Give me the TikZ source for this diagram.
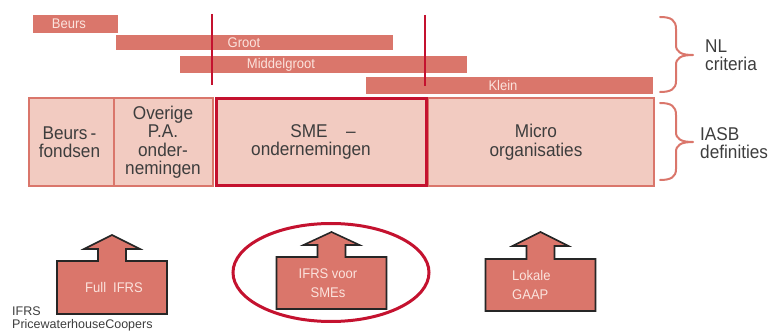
\documentclass[tikz,border=0pt]{standalone}
\usepackage{fontspec}
\setmainfont{Liberation Sans}
\newfontfamily\narrowsans[FakeStretch=0.93]{Liberation Sans}
\definecolor{salmon}{HTML}{DA766B}
\definecolor{blush}{HTML}{F2CBC1}
\definecolor{crimson}{HTML}{C4122F}
\definecolor{paletext}{HTML}{FBE3DD}
\definecolor{ink}{HTML}{3D3D3D}

% up-arrow "house" outline: #1 centre x, #2 tip y, #3 head base y, #4 body top y, #5 body bottom y
\newcommand\housearrow[5]{%
  \draw[arrowshape] (#1-55,#4) -- (#1-14,#4) -- (#1-14,#3) -- (#1-28,#3) -- (#1,#2)
    -- (#1+28,#3) -- (#1+14,#3) -- (#1+14,#4) -- (#1+55,#4) -- (#1+55,#5)
    -- (#1-55,#5) -- cycle;}

\tikzset{
  barfill/.style={fill=salmon},
  bartext/.style={text=paletext, font=\narrowsans\fontsize{14}{15}\selectfont, inner sep=0pt},
  pinkbox/.style={fill=blush, draw=salmon, line width=2pt},
  smebox/.style={draw=crimson, line width=3pt},
  boxtext/.style={text=ink, font=\narrowsans\fontsize{18.5}{18.5}\selectfont, align=center, inner sep=0pt},
  divider/.style={draw=crimson, line width=2pt},
  bracepath/.style={draw=salmon, line width=2pt, line cap=round, line join=round},
  sidetext/.style={text=ink, font=\narrowsans\fontsize{18.5}{18.5}\selectfont, align=left, anchor=west, inner sep=0pt},
  arrowshape/.style={fill=salmon, draw=black!85, line width=1.6pt, line join=miter},
  arrowtext/.style={text=paletext, font=\narrowsans\fontsize{14}{19}\selectfont, inner sep=0pt},
}

\begin{document}
\begin{tikzpicture}[x=1pt, y=-1pt]
\useasboundingbox (0,0) rectangle (769,334);

% size criteria bars
\path[barfill] (33,15) rectangle (118,33);
\node[bartext] (tbeurs) at (69,24) {Beurs};
\path[barfill] (116,35) rectangle (393,50);
\node[bartext] (tgroot) at (244,42.5) {Groot};
\path[barfill] (180,56) rectangle (467,73);
\node[bartext] (tmiddel) at (281,64.5) {Middelgroot};
\path[barfill] (366,77) rectangle (653,94);
\node[bartext] (tklein) at (503,85.5) {Klein};

% boundaries of the SME range
\draw[divider] (212,14) -- (212,85);
\draw[divider] (425,15) -- (425,86);

% IASB categories
\path[pinkbox] (29,98) rectangle (114,186);
\node[boxtext] (beursfondsen) at (69.5,142) {Beurs\,-\\fondsen};
\path[pinkbox] (114,98) rectangle (213,186);
\node[boxtext] (overige) at (163,142) {Overige\\P.A.\\onder-\\nemingen};
\path[pinkbox] (216,98) rectangle (426,186);
\path[pinkbox] (428,98) rectangle (654,186);
\draw[smebox] (216.5,98.3) rectangle (426,186);
\node[boxtext] (sme) at (311,142) {\hspace*{24pt}SME\quad–\\ondernemingen};
\node[boxtext] (micro) at (536,142) {Micro\\organisaties};

% braces with their labels
\draw[bracepath] (660,17) .. controls (671,17) and (676,20) .. (676,29) -- (676,45)
  .. controls (676,52) and (681,55) .. (693,55)
  .. controls (681,55) and (676,58) .. (676,65) -- (676,81)
  .. controls (676,89) and (671,92) .. (660,92);
\node[sidetext] (nl) at (705,55) {NL\\criteria};
\draw[bracepath] (660,103) .. controls (671,103) and (676,106) .. (676,115) -- (676,132)
  .. controls (676,139) and (681,142) .. (693,142)
  .. controls (681,142) and (676,145) .. (676,152) -- (676,169)
  .. controls (676,177) and (671,180) .. (660,180);
\node[sidetext] (iasb) at (700,143) {IASB\\definities};

% reporting frameworks
\housearrow{112}{235}{249}{261}{314}
\node[arrowtext] (full) at (114,287) {Full\enspace IFRS};
\draw[crimson, line width=3pt] (331,272.5) ellipse [x radius=98, y radius=49];
\housearrow{331.5}{232}{245}{257}{309}
\node[arrowtext, align=center] (ifrssme) at (328,283) {IFRS voor\\SMEs};
\housearrow{540.5}{232}{246}{259}{311}
\node[arrowtext, align=left, anchor=west] (lokaal) at (512,285) {Lokale\\GAAP};

% source
\node[text=ink, font=\fontsize{12.5}{12.5}\selectfont, align=left, anchor=south west, inner sep=0pt]
  (bron) at (12,331) {IFRS\\PricewaterhouseCoopers};
\end{tikzpicture}
\end{document}
